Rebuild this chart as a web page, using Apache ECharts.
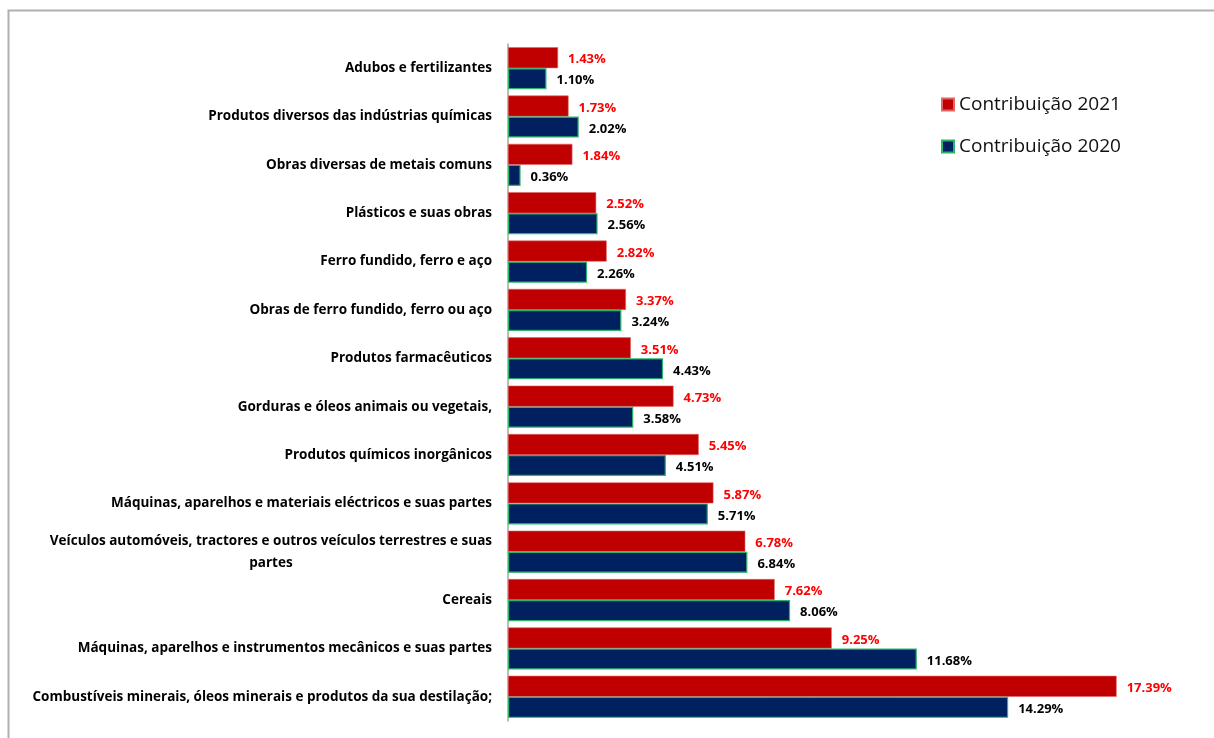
<!DOCTYPE html>
<html><head><meta charset="utf-8">
<script src="https://cdn.jsdelivr.net/npm/echarts@6/dist/echarts.min.js"></script>
<style>html,body{margin:0;padding:0;background:#fff}#c{width:1214px;height:738px}</style>
</head><body><div id="c"></div>
<script>
const categories = [
  "Adubos e fertilizantes",
  "Produtos diversos das indústrias químicas",
  "Obras diversas de metais comuns",
  "Plásticos e suas obras",
  "Ferro fundido, ferro e aço",
  "Obras de ferro fundido, ferro ou aço",
  "Produtos farmacêuticos",
  "Gorduras e óleos animais ou vegetais,",
  "Produtos químicos inorgânicos",
  "Máquinas, aparelhos e materiais eléctricos e suas partes",
  "Veículos automóveis, tractores e outros veículos terrestres e suas\npartes",
  "Cereais",
  "Máquinas, aparelhos e instrumentos mecânicos e suas partes",
  "Combustíveis minerais, óleos minerais e produtos da sua destilação;"
];
const contrib2021 = [1.43, 1.73, 1.84, 2.52, 2.82, 3.37, 3.51, 4.73, 5.45, 5.87, 6.78, 7.62, 9.25, 17.39];
const contrib2020 = [1.10, 2.02, 0.36, 2.56, 2.26, 3.24, 4.43, 3.58, 4.51, 5.71, 6.84, 8.06, 11.68, 14.29];
const seriesNames = ["Contribuição 2021", "Contribuição 2020"];

const FONT = '"Open Sans", sans-serif';
const chart = echarts.init(document.getElementById('c'));
chart.setOption({
  animation: false,
  graphic: [{
    type: 'rect', shape: {x: 8.5, y: 10.5, width: 1230, height: 760},
    style: {fill: 'none', stroke: '#b0b0b0', lineWidth: 2}, silent: true
  }],
  legend: {
    orient: 'vertical', left: 936, top: 90, itemGap: 23,
    itemWidth: 12, itemHeight: 12, icon: 'rect',
    textStyle: {fontFamily: FONT, fontSize: 19, color: '#111'},
    data: seriesNames
  },
  grid: {left: 508, top: 44, width: 700, height: 677, containLabel: false},
  xAxis: {
    type: 'value', min: 0, max: 20, show: false
  },
  yAxis: {
    type: 'category', data: categories, inverse: true,
    axisLine: {show: true, lineStyle: {color: '#a6a6a6', width: 1.5}},
    axisTick: {show: false},
    axisLabel: {
      margin: 16, fontFamily: FONT, fontWeight: 'bold', fontSize: 13.5, color: '#000',
      align: 'right', lineHeight: 22,
      formatter: v => v.split('\n').map(s => '{c|' + s + '}').join('\n'),
      rich: {c: {align: 'center', fontFamily: FONT, fontWeight: 'bold', fontSize: 13.5, color: '#000', lineHeight: 22}}
    }
  },
  series: [
    {
      name: seriesNames[0], type: 'bar', data: contrib2021,
      barGap: '0%', barCategoryGap: '13%',
      itemStyle: {color: '#c00000', borderColor: '#e06666', borderWidth: 0.6},
      label: {show: true, position: 'right', distance: 10, formatter: p => p.value.toFixed(2) + '%',
        fontFamily: FONT, fontWeight: 'bold', fontSize: 13, color: '#ff0000', offset: [0, 2]}
    },
    {
      name: seriesNames[1], type: 'bar', data: contrib2020,
      itemStyle: {color: '#002060', borderColor: '#2db36b', borderWidth: 1.2},
      label: {show: true, position: 'right', distance: 10, formatter: p => p.value.toFixed(2) + '%',
        fontFamily: FONT, fontWeight: 'bold', fontSize: 13, color: '#000', offset: [0, 2]}
    }
  ]
});
</script></body></html>
